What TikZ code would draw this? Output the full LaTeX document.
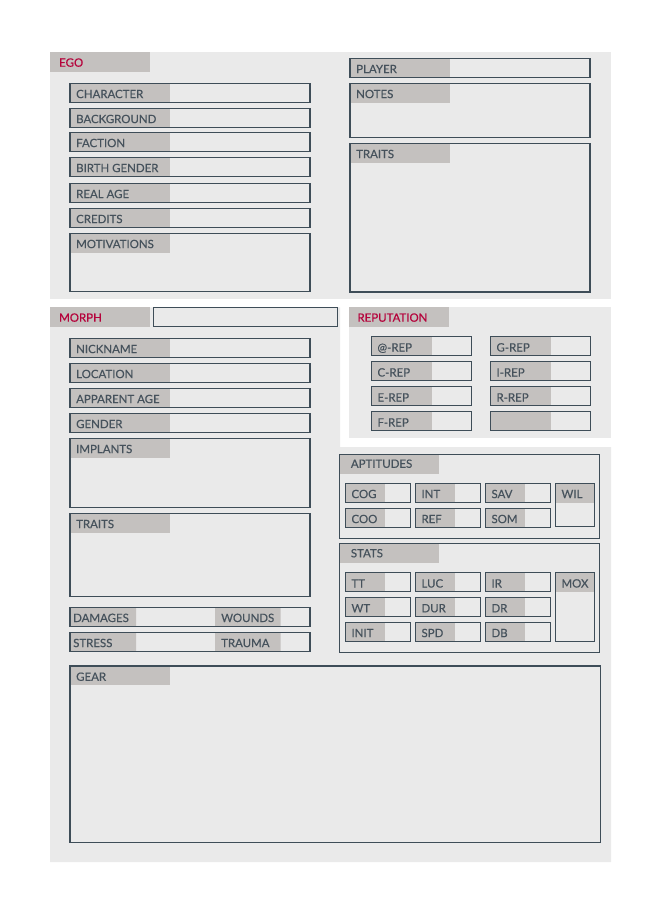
\documentclass[tikz,border=0pt]{standalone}
\usepackage{fontspec}
\setmainfont{Lato}
\newfontfamily\sheetfont[FakeBold=0.4]{Lato}
\definecolor{sheetbg}{HTML}{EAEAEA}
\definecolor{lblgray}{HTML}{C4C1BF}
\definecolor{edgeline}{HTML}{3E4D58}
\definecolor{ink}{HTML}{46525C}
\definecolor{egored}{HTML}{B5023B}
\newcommand{\sheetfield}[7]{%
  \fill[lblgray] (#2,#3) rectangle ++(#6,19.4);
  \node[lbl] (#1) at (#2+6,#3+14.8) {#7};
  \draw[box] (#2,#3) rectangle ++(#4,#5);
}
\begin{document}
\begin{tikzpicture}[x=1bp,y=-1bp]
\tikzstyle{lbl}=[anchor=base west,inner sep=0pt,text=ink,font=\sheetfont\fontsize{11.5}{13}\selectfont]
\tikzstyle{head}=[lbl,text=egored]
\tikzstyle{box}=[draw=edgeline,line width=1.1bp]
\useasboundingbox (0,0) rectangle (655,902);
\fill[sheetbg] (50,52) rectangle (611,299);
\fill[sheetbg] (50,307.3) -- (340,307.3) -- (340,447) -- (611,447) -- (611,862) -- (50,862) -- cycle;
\fill[sheetbg] (349,307.3) rectangle (611,438);

\fill[lblgray] (50,52) rectangle ++(100,20);
\node[head] (ego) at (59,66.7) {EGO};
\sheetfield{character}{70}{83.3}{240}{19.4}{100}{CHARACTER}
\sheetfield{background}{70}{108.3}{240}{19.4}{100}{BACKGROUND}
\sheetfield{faction}{70}{132.3}{240}{19.4}{100}{FACTION}
\sheetfield{birthgender}{70}{157.3}{240}{19.4}{100}{BIRTH GENDER}
\sheetfield{realage}{70}{183.3}{240}{19.4}{100}{REAL AGE}
\sheetfield{credits}{70}{208.3}{240}{19.4}{100}{CREDITS}
\sheetfield{motivations}{70}{233.3}{240}{58}{100}{MOTIVATIONS}
\sheetfield{player}{350}{58.3}{240}{19}{100}{PLAYER}
\sheetfield{notes}{350}{83.3}{240}{54}{100}{NOTES}
\sheetfield{egotraits}{350}{143.3}{240}{148.7}{100}{TRAITS}

\fill[lblgray] (50,307.3) rectangle ++(100,19.4);
\node[head] (morph) at (59,321.7) {MORPH};
\draw[box] (153.3,307.3) rectangle (337.7,326.7);
\sheetfield{nickname}{70}{338.3}{240}{19.4}{100}{NICKNAME}
\sheetfield{location}{70}{363.3}{240}{19.4}{100}{LOCATION}
\sheetfield{apparentage}{70}{388.3}{240}{19.4}{100}{APPARENT AGE}
\sheetfield{gender}{70}{413.3}{240}{19.4}{100}{GENDER}
\sheetfield{implants}{70}{438.3}{240}{69}{100}{IMPLANTS}
\sheetfield{morphtraits}{70}{513.3}{240}{83}{100}{TRAITS}
\fill[lblgray] (70,607.3) rectangle ++(66,19) (215,607.3) rectangle ++(65.7,19);
\fill[lblgray] (70,632.3) rectangle ++(66,19.4) (215,632.3) rectangle ++(65.7,19.4);
\node[lbl] (damages) at (73,622) {DAMAGES};
\node[lbl] (wounds) at (221,622) {WOUNDS};
\node[lbl] (stress) at (73,647.1) {STRESS};
\node[lbl] (trauma) at (221,647.1) {TRAUMA};
\draw[box] (70,607.3) rectangle ++(240,19) (70,632.3) rectangle ++(240,19.4);

\fill[lblgray] (349,307.3) rectangle ++(100,19.4);
\node[head] (reputation) at (357.3,321.7) {REPUTATION};
\sheetfield{atrep}{371.3}{336.7}{100.4}{18.6}{60.4}{@-REP}
\sheetfield{crep}{371.3}{361.7}{100.4}{18.6}{60.4}{C-REP}
\sheetfield{erep}{371.3}{386.7}{100.4}{18.6}{60.4}{E-REP}
\sheetfield{frep}{371.3}{411.7}{100.4}{18.6}{60.4}{F-REP}
\sheetfield{grep}{490.3}{336.7}{100.4}{18.6}{60.4}{G-REP}
\sheetfield{irep}{490.3}{361.7}{100.4}{18.6}{60.4}{I-REP}
\sheetfield{rrep}{490.3}{386.7}{100.4}{18.6}{60.4}{R-REP}
\sheetfield{xrep}{490.3}{411.7}{100.4}{18.6}{60.4}{}

\fill[lblgray] (339.3,454.3) rectangle ++(99.4,19.4);
\node[lbl] (aptitudes) at (350.7,467.8) {APTITUDES};
\draw[box] (339.3,454.3) rectangle (599.3,538.3);
\sheetfield{cog}{345.3}{483.3}{65}{19}{39.7}{COG}
\sheetfield{int}{415.3}{483.3}{65}{19}{39.7}{INT}
\sheetfield{sav}{485.3}{483.3}{65}{19}{39.7}{SAV}
\sheetfield{coo}{345.3}{508.3}{65}{19}{39.7}{COO}
\sheetfield{ref}{415.3}{508.3}{65}{19}{39.7}{REF}
\sheetfield{som}{485.3}{508.3}{65}{19}{39.7}{SOM}
\sheetfield{wil}{555.3}{483.3}{39}{43.4}{39}{WIL}

\fill[lblgray] (339.3,543.7) rectangle ++(99.4,19.4);
\node[lbl] (stats) at (350.7,557.3) {STATS};
\draw[box] (339.3,543.7) rectangle (599.3,652.7);
\sheetfield{tt}{345.3}{572.7}{65}{19}{39.7}{TT}
\sheetfield{luc}{415.3}{572.7}{65}{19}{39.7}{LUC}
\sheetfield{ir}{485.3}{572.7}{65}{19}{39.7}{IR}
\sheetfield{wt}{345.3}{597.5}{65}{19}{39.7}{WT}
\sheetfield{dur}{415.3}{597.5}{65}{19}{39.7}{DUR}
\sheetfield{dr}{485.3}{597.5}{65}{19}{39.7}{DR}
\sheetfield{init}{345.3}{622.3}{65}{19}{39.7}{INIT}
\sheetfield{spd}{415.3}{622.3}{65}{19}{39.7}{SPD}
\sheetfield{db}{485.3}{622.3}{65}{19}{39.7}{DB}
\sheetfield{mox}{555.3}{572.7}{39}{69}{39}{MOX}

\sheetfield{gear}{70}{666}{530.7}{176.3}{100}{GEAR}
\end{tikzpicture}
\end{document}
